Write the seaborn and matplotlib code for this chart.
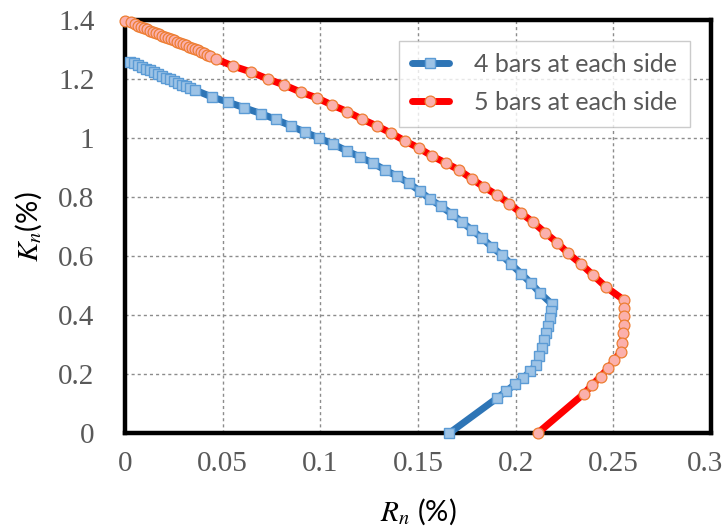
import matplotlib
matplotlib.use("Agg")
import matplotlib.pyplot as plt
import matplotlib.transforms as mtransforms
import seaborn as sns
import pandas as pd

# ---- data ----
r4 = [0.0026, 0.0046, 0.0067, 0.0087, 0.0108, 0.0128, 0.0148, 0.0169, 0.0189, 0.0210,
      0.0230, 0.0251, 0.0271, 0.0292, 0.0312, 0.0333, 0.0358,
      0.0445, 0.0527, 0.0609, 0.0696, 0.0773, 0.0850, 0.0922, 0.0993, 0.1065, 0.1137,
      0.1203, 0.1270, 0.1331, 0.1393, 0.1454, 0.1510, 0.1562, 0.1618, 0.1674, 0.1726,
      0.1777, 0.1828, 0.1879, 0.1930, 0.1976, 0.2028, 0.2079, 0.2125, 0.2186,
      0.2181, 0.2176, 0.2166, 0.2156, 0.2145, 0.2135, 0.2120, 0.2104, 0.2074, 0.2038,
      0.1997, 0.1951, 0.1905, 0.1660]
k4 = [1.258, 1.253, 1.247, 1.241, 1.234, 1.229, 1.224, 1.217, 1.210, 1.205,
      1.200, 1.193, 1.188, 1.181, 1.176, 1.169, 1.163,
      1.139, 1.122, 1.103, 1.083, 1.063, 1.041, 1.020, 1.000, 0.980, 0.956,
      0.936, 0.915, 0.892, 0.871, 0.847, 0.820, 0.793, 0.769, 0.742, 0.715,
      0.688, 0.661, 0.631, 0.603, 0.573, 0.541, 0.508, 0.475, 0.437,
      0.414, 0.390, 0.363, 0.339, 0.315, 0.288, 0.261, 0.231, 0.210, 0.186,
      0.166, 0.142, 0.119, 0.000]

r5 = [0.0000, 0.0031, 0.0051, 0.0067, 0.0082, 0.0097, 0.0113, 0.0128, 0.0143, 0.0159,
      0.0174, 0.0189, 0.0205, 0.0220, 0.0236, 0.0251, 0.0266, 0.0282, 0.0297, 0.0312,
      0.0328, 0.0343, 0.0358, 0.0374, 0.0389, 0.0405, 0.0420, 0.0435, 0.0466,
      0.0553, 0.0645, 0.0732, 0.0814, 0.0899, 0.0983, 0.1060, 0.1137, 0.1214, 0.1290,
      0.1362, 0.1434, 0.1505, 0.1572, 0.1644, 0.1710, 0.1777, 0.1838, 0.1905, 0.1966,
      0.2028, 0.2089, 0.2150, 0.2212, 0.2268, 0.2335, 0.2396, 0.2463, 0.2555,
      0.2556, 0.2557, 0.2555, 0.2551, 0.2545, 0.2537, 0.2505, 0.2473, 0.2435, 0.2392,
      0.2350, 0.2112]
k5 = [1.398, 1.392, 1.386, 1.381, 1.378, 1.373, 1.369, 1.364, 1.361, 1.356,
      1.353, 1.347, 1.344, 1.339, 1.336, 1.331, 1.327, 1.322, 1.319, 1.314,
      1.310, 1.305, 1.302, 1.297, 1.293, 1.288, 1.283, 1.278, 1.268,
      1.244, 1.224, 1.200, 1.180, 1.156, 1.136, 1.112, 1.090, 1.064, 1.041,
      1.017, 0.990, 0.966, 0.939, 0.915, 0.892, 0.861, 0.834, 0.807, 0.778,
      0.746, 0.715, 0.680, 0.646, 0.610, 0.573, 0.536, 0.495, 0.451,
      0.425, 0.397, 0.368, 0.339, 0.305, 0.275, 0.247, 0.220, 0.192, 0.164,
      0.134, 0.000]

label4 = "4 bars at each side"
label5 = "5 bars at each side"
xticks = [0, 0.05, 0.1, 0.15, 0.2, 0.25, 0.3]
xticklabels = ["0", "0.05", "0.1", "0.15", "0.2", "0.25", "0.3"]
yticks = [0, 0.2, 0.4, 0.6, 0.8, 1.0, 1.2, 1.4]
yticklabels = ["0", "0.2", "0.4", "0.6", "0.8", "1", "1.2", "1.4"]

df4 = pd.DataFrame({"R": r4, "K": k4})
df5 = pd.DataFrame({"R": r5, "K": k5})

sns.set_style("white")
plt.rcParams["mathtext.fontset"] = "stix"

fig = plt.figure(figsize=(7.24, 5.27), dpi=100)
ax = fig.add_axes([0.1727, 0.178, 0.982 - 0.1727, 0.962 - 0.178])

sns.lineplot(data=df4, x="R", y="K", sort=False, estimator=None, ax=ax,
             color="#2E75B6", linewidth=5.0, marker="s", markersize=7.8,
             markerfacecolor="#9DC3E6", markeredgecolor="#5B9BD5",
             markeredgewidth=1.0, label=label4, clip_on=False, zorder=3)
sns.lineplot(data=df5, x="R", y="K", sort=False, estimator=None, ax=ax,
             color="#FF0000", linewidth=5.0, marker="o", markersize=7.8,
             markerfacecolor="#FBB0AC", markeredgecolor="#ED7D31",
             markeredgewidth=0.9, label=label5, clip_on=False, zorder=4)

ax.set_xlim(0, 0.3)
ax.set_ylim(0, 1.4)
ax.set_xticks(xticks)
ax.set_xticklabels(xticklabels)
ax.set_yticks(yticks)
ax.set_yticklabels(yticklabels)
for lab in ax.get_xticklabels() + ax.get_yticklabels():
    lab.set_fontfamily("Liberation Serif")
    lab.set_fontsize(21)
    lab.set_color("#595959")
ax.tick_params(axis="x", length=0, pad=13)
ax.tick_params(axis="y", length=0, pad=22)
# keep the last x label inside the canvas
last = ax.get_xticklabels()[-1]
last.set_transform(last.get_transform() +
                   mtransforms.ScaledTranslation(-6 / 100, 0, fig.dpi_scale_trans))

ax.grid(True, color="#8c8c8c", linestyle=(0, (2.2, 2.2)), linewidth=1.0)
ax.set_axisbelow(True)
for s in ax.spines.values():
    s.set_color("black")
    s.set_linewidth(3.2)
    s.set_zorder(2.5)

ax.set_xlabel(r"$R_n$ (%)", fontsize=21, family="Lato", color="black", labelpad=14)
ax.set_ylabel(r"$K_n$(%)", fontsize=21, family="Lato", color="black", labelpad=10)

leg = ax.legend(loc="upper right", bbox_to_anchor=(0.964, 0.95), borderaxespad=0,
                fontsize=18, frameon=True, fancybox=False, edgecolor="#BFBFBF",
                handlelength=1.5, handletextpad=1.0, borderpad=0.5,
                labelspacing=0.6)
leg.get_frame().set_linewidth(1.0)
for t in leg.get_texts():
    t.set_color("#595959")
    t.set_fontfamily("Lato")
leg.set_zorder(5)

fig.savefig("out.png", dpi=100)
